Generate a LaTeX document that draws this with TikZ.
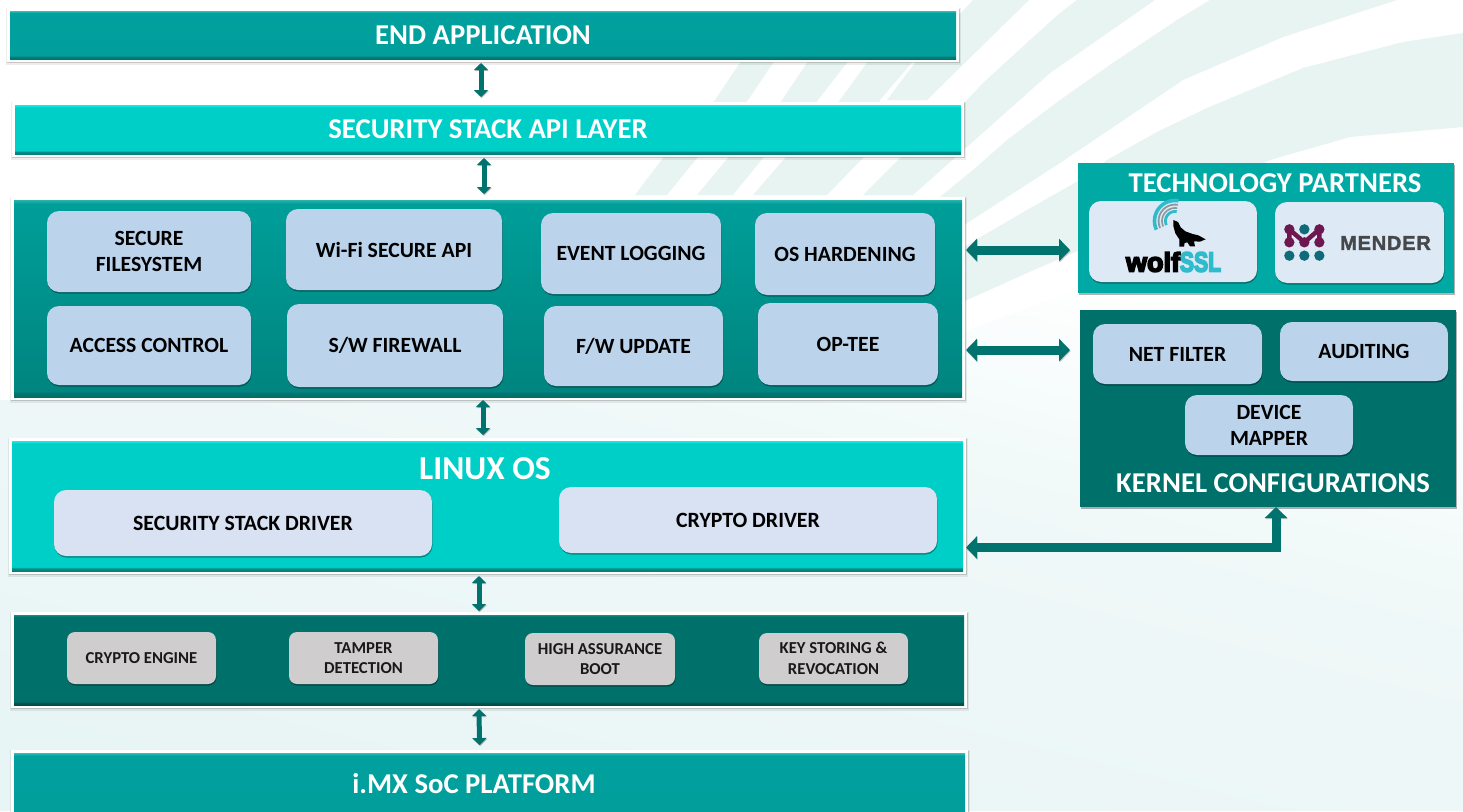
\documentclass[tikz,border=0pt]{standalone}
\usepackage{fontspec}
\usepackage{graphicx}
\setmainfont{Carlito}
\newfontfamily\logofont{Liberation Sans}[UprightFont=* Bold,FakeBold=6]
\newfontfamily\menderfont{Liberation Sans}[UprightFont=* Bold,LetterSpace=4,FakeBold=1.5]
\usetikzlibrary{arrows.meta,shadows,calc}
\definecolor{arrowteal}{HTML}{00736F}
\definecolor{swoosh}{HTML}{E7F4F2}
\definecolor{techfill}{HTML}{00A9A3}
\definecolor{kernfill}{HTML}{00706B}
\definecolor{innerblue}{HTML}{BBD4EC}
\definecolor{driverblue}{HTML}{D9E2F3}
\definecolor{logoblue}{HTML}{DEE9F6}
\definecolor{grayfill}{HTML}{CFCDCE}
\definecolor{wolfteal}{HTML}{2FBBCB}
\definecolor{wolfgray}{HTML}{8C9A9E}
\definecolor{menderpurple}{HTML}{6E1650}
\definecolor{menderteal}{HTML}{0F6B78}
\definecolor{mendergray}{HTML}{45474A}
% the visible part of a shading is its middle 25bp--75bp
\pgfdeclareverticalshading{bevelA}{100bp}{rgb(0bp)=(0,.45,.43); rgb(25bp)=(0,.45,.43); rgb(27.5bp)=(0,.5,.48); rgb(28.5bp)=(.004,.62,.61); rgb(73bp)=(.004,.63,.62); rgb(75bp)=(.2,.75,.74); rgb(100bp)=(.2,.75,.74)}
\pgfdeclareverticalshading{bevelS}{100bp}{rgb(0bp)=(0,.45,.43); rgb(25bp)=(0,.45,.43); rgb(26.5bp)=(0,.5,.48); rgb(27.5bp)=(.004,.62,.61); rgb(73bp)=(.004,.63,.62); rgb(75bp)=(.2,.75,.74); rgb(100bp)=(.2,.75,.74)}
\pgfdeclareverticalshading{bevelB}{100bp}{rgb(0bp)=(0,.5,.48); rgb(25bp)=(0,.5,.48); rgb(27.5bp)=(0,.56,.54); rgb(28.5bp)=(0,.81,.78); rgb(72.5bp)=(0,.81,.78); rgb(73.5bp)=(0,.88,.85); rgb(75bp)=(.1,.92,.9); rgb(100bp)=(.1,.92,.9)}
\pgfdeclareverticalshading{bevelM}{100bp}{rgb(0bp)=(0,.43,.41); rgb(25bp)=(0,.43,.41); rgb(26bp)=(0,.46,.44); rgb(26.5bp)=(0,.52,.5); rgb(74bp)=(0,.62,.6); rgb(75bp)=(.15,.7,.68); rgb(100bp)=(.15,.7,.68)}
\pgfdeclareverticalshading{bevelL}{100bp}{rgb(0bp)=(0,.5,.48); rgb(25bp)=(0,.5,.48); rgb(26bp)=(0,.56,.54); rgb(26.6bp)=(0,.81,.78); rgb(74bp)=(0,.81,.78); rgb(75bp)=(.1,.92,.9); rgb(100bp)=(.1,.92,.9)}
\pgfdeclareverticalshading{bevelD}{100bp}{rgb(0bp)=(0,.3,.28); rgb(25bp)=(0,.3,.28); rgb(26.2bp)=(0,.33,.31); rgb(27bp)=(0,.44,.42); rgb(74bp)=(0,.44,.42); rgb(75bp)=(.1,.55,.53); rgb(100bp)=(.1,.55,.53)}
\pgfdeclareverticalshading{bgfade}{100bp}{rgb(0bp)=(.91,.96,.96); rgb(25bp)=(.91,.96,.96); rgb(45bp)=(.93,.968,.968); rgb(58bp)=(.94,.972,.972); rgb(68bp)=(.975,.99,.99); rgb(75bp)=(1,1,1); rgb(100bp)=(1,1,1)}
\tikzset{
  panelbox/.style={rectangle,inner sep=0pt,outer sep=1pt,align=center,text=white,
    preaction={draw=black,opacity=.07,line width=9pt,transform canvas={xshift=.6pt,yshift=-1pt}},
    preaction={draw=black,opacity=.16,line width=6.5pt,transform canvas={xshift=.6pt,yshift=-.9pt}},
    preaction={draw=white,line width=5.5pt},
    font=\fontsize{28.7}{32}\selectfont\bfseries},
  teala/.style={panelbox,shading=bevelA},
  teals/.style={panelbox,shading=bevelS},
  tealb/.style={panelbox,shading=bevelB},
  tealm/.style={panelbox,shading=bevelM},
  teall/.style={panelbox,shading=bevelL},
  teald/.style={panelbox,shading=bevelD},
  sidebox/.style={rectangle,inner sep=0pt,outer sep=0pt,drop shadow={shadow xshift=1pt,shadow yshift=-1.5pt,opacity=.3,fill=black}},
  techbox/.style={sidebox,fill=techfill},
  kernbox/.style={sidebox,fill=kernfill},
  titletext/.style={inner sep=0pt,text=white,font=\fontsize{28.7}{32}\selectfont\bfseries},
  card/.style={rectangle,rounded corners=12pt,inner sep=0pt,outer sep=0pt,align=center,text=black,
    drop shadow={shadow xshift=.5pt,shadow yshift=-1.5pt,opacity=.35,fill=black}},
  innercard/.style={card,fill=innerblue,font=\fontsize{21.7}{26}\selectfont\bfseries},
  drivercard/.style={card,fill=driverblue,font=\fontsize{21.8}{26}\selectfont\bfseries},
  logocard/.style={card,fill=logoblue},
  graycard/.style={card,rounded corners=8pt,fill=grayfill,font=\fontsize{16.7}{20.5}\selectfont\bfseries,text=black!90},
  shadowline/.style={preaction={draw=black,opacity=.22,transform canvas={xshift=.6pt,yshift=-1.2pt}}},
  thinlink/.style={draw=arrowteal,line width=5pt,{Triangle[length=7pt,width=14pt]}-{Triangle[length=7pt,width=14pt]},shadowline},
  widelink/.style={draw=arrowteal,line width=9pt,{Triangle[length=11pt,width=22pt]}-{Triangle[length=11pt,width=22pt]},shadowline},
}
\newcommand{\boxat}[7]{\node[#6,minimum width={(#4)-(#2)},minimum height={(#5)-(#3)}] (#1) at ({((#2)+(#4))/2},{((#3)+(#5))/2}) {#7};}
\begin{document}
\begin{tikzpicture}[x=1pt,y=-1pt]
\useasboundingbox (0,0) rectangle (1463,811);
% background
\fill[white] (0,0) rectangle (1463,811);
\shade[shading=bgfade,shading angle=-14]
  (0,400) -- (400,400) -- (700,380) -- (963,332) -- (1077,290) -- (1110,285) -- (1463,285) -- (1463,811) -- (0,811) -- cycle;
% swooshes, upper right and behind the panels
\fill[swoosh] (973,0) -- (1029,0) -- (927,100) -- (887,100) -- (917,60) -- cycle;
\fill[swoosh] (1077,0) -- (1060,13) -- (1030,40) -- (983,83) -- (967,100) -- (900,158) -- (863,195) -- (913,195) -- (967,147) -- (1050,73) -- (1155,0) -- cycle;
\fill[swoosh] (1210,0) -- (1177,20) -- (1117,60) -- (1060,100) -- (1007,140) -- (973,170) -- (940,197) -- (950,240) -- (967,223) -- (1060,163) -- (1183,80) -- (1283,37) -- (1397,0) -- cycle;
\fill[swoosh] (1463,33) -- (1403,42) -- (1303,68) -- (1207,108) -- (1157,132) -- (1107,160) -- (1080,180) -- (1027,210) -- (967,245) -- (950,255) -- (950,308) -- (967,300) -- (1027,273) -- (1080,250) -- (1270,160) -- (1350,137) -- (1463,127) -- cycle;
\fill[swoosh] (742,60) -- (715,100) -- (663,158) -- (635,195) -- (667,195) -- (697,158) -- (748,100) -- (775,60) -- cycle;
\fill[swoosh] (809,60) -- (782,100) -- (728,158) -- (697,195) -- (733,195) -- (763,158) -- (818,100) -- (849,60) -- cycle;
\fill[swoosh] (869,60) -- (840,100) -- (785,158) -- (753,195) -- (827,195) -- (863,158) -- (880,100) -- (914,60) -- cycle;
% main panels
\boxat{endapp}{10}{11}{956}{59}{teala}{END APPLICATION}
\boxat{apilayer}{15}{105}{961}{154}{tealb}{SECURITY STACK API LAYER}
\boxat{middle}{14}{200}{962}{397}{tealm}{}
\boxat{linux}{12}{441}{963}{571}{teall}{}
\boxat{hw}{14}{615}{964}{705}{teald}{}
\boxat{soc}{14}{753}{965}{815}{teals}{}
\node[titletext,font=\fontsize{33.5}{36}\selectfont\bfseries] (linuxtitle) at (485,469) {LINUX OS};
\node[titletext] (soctitle) at (474,784) {i.MX SoC PLATFORM};
% middle cards
\boxat{securefs}{47}{211}{251}{292}{innercard}{SECURE\\FILESYSTEM}
\boxat{wifi}{286}{209}{502}{290}{innercard}{Wi-Fi SECURE API}
\boxat{eventlog}{541}{213}{721}{294}{innercard}{EVENT LOGGING}
\boxat{oshard}{755}{213}{935}{295}{innercard}{OS HARDENING}
\boxat{access}{47}{306}{251}{385}{innercard}{ACCESS CONTROL}
\boxat{firewall}{287}{304}{503}{387}{innercard}{S/W FIREWALL}
\boxat{fwupdate}{544}{306}{723}{386}{innercard}{F/W UPDATE}
\boxat{optee}{758}{303}{938}{385}{innercard}{OP-TEE}
% linux cards
\boxat{secdriver}{54}{490}{432}{556}{drivercard}{SECURITY STACK DRIVER}
\boxat{cryptodriver}{559}{487}{937}{553}{drivercard}{CRYPTO DRIVER}
% hardware cards
\boxat{cryptoengine}{67}{632}{216}{684}{graycard}{CRYPTO ENGINE}
\boxat{tamper}{289}{632}{438}{684}{graycard}{TAMPER\\DETECTION}
\boxat{hab}{525}{633}{675}{685}{graycard}{HIGH ASSURANCE\\BOOT}
\boxat{keystore}{759}{633}{908}{684}{graycard}{KEY STORING \&\\REVOCATION}
% right side
\boxat{tech}{1078}{163}{1454}{293}{techbox}{}
\node[titletext] (techtitle) at (1275,183) {TECHNOLOGY PARTNERS};
\boxat{wolfcard}{1089}{201}{1257}{282}{logocard}{}
\boxat{mendercard}{1275}{202}{1444}{283}{logocard}{}
\boxat{kernel}{1080}{310}{1456}{507}{kernbox}{}
\node[titletext] (kerneltitle) at (1273,483) {KERNEL CONFIGURATIONS};
\boxat{netfilter}{1093}{324}{1262}{384}{innercard}{NET FILTER}
\boxat{auditing}{1280}{322}{1448}{381}{innercard}{AUDITING}
\boxat{devmapper}{1185}{395}{1353}{455}{innercard}{DEVICE\\MAPPER}
% wolfSSL logo
\foreach \r/\c/\w in {20.5/wolfteal/3.6,16.4/wolfgray/1.8,13/wolfgray/1.6,9.5/wolfteal/2.8}
  \draw[\c,line width=\w pt] plot[domain=80:205,samples=30] ({1175+\r*cos(\x)},{221-\r*sin(\x)});
\begin{scope}[shift={(1150,200)},x=.3333pt,y=-.3333pt]
  \fill[black] (70,60) -- (84,66) -- (92,82) -- (106,94) -- (128,102) -- (145,106) -- (167,118) -- (150,125) -- (132,124) -- (135,139) -- (120,139) -- (112,127) -- (104,129) -- (102,140) -- (88,140) -- (88,118) -- (76,100) -- (70,78) -- cycle;
\end{scope}
\node[inner sep=0pt,text=black,font=\logofont\fontsize{27}{27}\selectfont] (wolfword) at (1153,262) {wolf};
\node[inner sep=0pt,text=wolfteal,font=\logofont\fontsize{28}{28}\selectfont] (sslword) at (1200.5,262) {\scalebox{.76}[1]{SSL}};
% mender logo
\begin{scope}[shift={(1275,210)},x=.3333pt,y=-.3333pt]
  \draw[menderpurple,line width=4.5pt,line join=round] (43,97) -- (43,58) -- (88,97) -- (133,58) -- (133,97);
  \foreach \p in {(43,58),(133,58),(43,97),(88,97),(133,97)} \fill[menderpurple] \p circle[radius=15.5];
  \foreach \p in {(88,58),(43,137),(88,137),(133,137)} \fill[menderteal] \p circle[radius=15.5];
\end{scope}
\node[inner sep=0pt,text=mendergray,font=\menderfont\fontsize{20}{20}\selectfont] (menderword) at (1385.5,243) {MENDER};
% connectors
\draw[thinlink] ([xshift=-2pt,yshift=-3pt]endapp.south) -- ([xshift=-7pt,yshift=7pt]apilayer.north);
\draw[thinlink] ([xshift=-4pt,yshift=-3pt]apilayer.south) -- ([xshift=-4pt,yshift=5pt]middle.north);
\draw[thinlink] ([xshift=-5pt,yshift=-2pt]middle.south) -- ([xshift=-4.5pt,yshift=5pt]linux.north);
\draw[thinlink] ([xshift=-8.5pt,yshift=-4pt]linux.south) -- ([xshift=-10pt,yshift=3pt]hw.north);
\draw[thinlink] ([xshift=-10pt,yshift=-3pt]hw.south) -- ([xshift=-10pt,yshift=7pt]soc.north);
\draw[widelink] ([xshift=3pt,yshift=48.5pt]middle.east) -- ([xshift=-8pt,yshift=-22pt]tech.west);
\draw[widelink] ([xshift=3pt,yshift=-51.5pt]middle.east) -- ([xshift=-10pt,yshift=58.5pt]kernel.west);
\draw[widelink] ([xshift=2pt,yshift=-41.5pt]linux.east) -| ([xshift=8pt]kernel.south);
\end{tikzpicture}
\end{document}
